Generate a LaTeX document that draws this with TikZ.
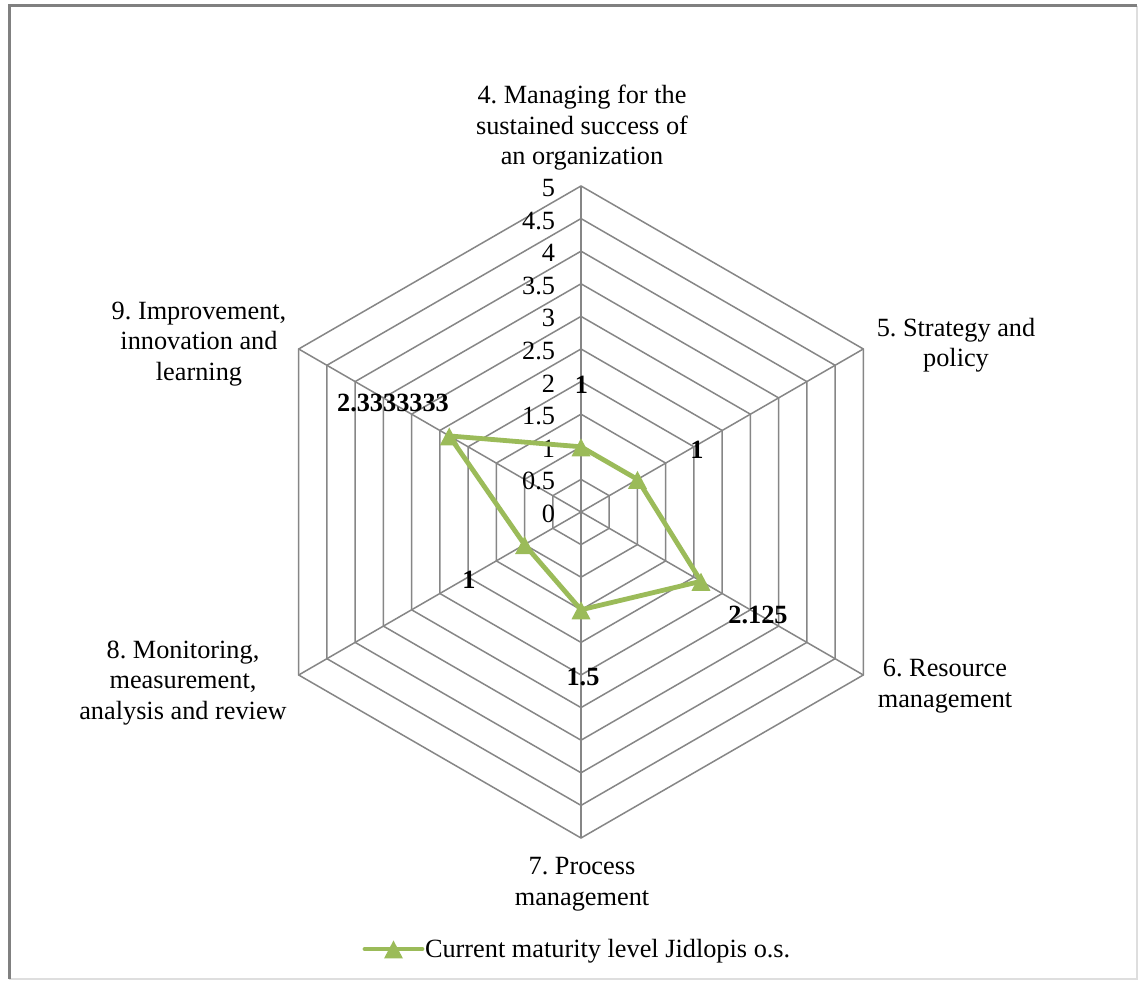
\documentclass[tikz,border=0pt]{standalone}
\usepackage{fontspec}
\usetikzlibrary{calc}
\setmainfont{Liberation Serif}
\frenchspacing
\definecolor{gridgray}{RGB}{134,134,134}
\definecolor{framegray}{RGB}{128,128,128}
\definecolor{shadegray}{RGB}{222,222,222}
\definecolor{seriesgreen}{RGB}{155,187,89}
\tikzset{
  tri/.pic={\fill[seriesgreen] (-9.5,-9.5) -- (9.5,-9.5) -- (0,8.5) -- cycle;}
}
\begin{document}
\begin{tikzpicture}[x=1pt,y=1pt,
  every node/.style={inner sep=0pt, outer sep=0pt},
  chartfont/.style={font=\fontsize{26.3}{30.5}\selectfont},
  axislabel/.style={chartfont, align=center},
  ticklabel/.style={chartfont, anchor=east},
  vallabel/.style={font=\fontsize{26.3}{30.5}\selectfont\bfseries},
  gridline/.style={draw=gridgray, line width=1.5pt},
  series/.style={draw=seriesgreen, line width=4.8pt, line join=round}]

% page and chart frame
\useasboundingbox (0,0) rectangle (1140,982);
\fill[white] (0,0) rectangle (1140,982);
\draw[shadegray, line width=2pt] (1137,976) -- (1137,3) -- (9,3);
\draw[framegray, line width=3pt] (9,3) -- (9,976) -- (1137,976);

% radar grid: 10 rings of 0.5 each, six spokes
\begin{scope}[shift={(581,470)}]
  \foreach \k in {1,...,10} {
    \pgfmathsetmacro{\r}{\k*32.6}
    \draw[gridline] (90:\r) -- (30:\r) -- (-30:\r) -- (-90:\r) -- (-150:\r) -- (150:\r) -- cycle;
  }
  \foreach \a in {90,30,-30,-90,-150,150}
    \draw[gridline] (0,0) -- (\a:326);

  % data points of the series
  \coordinate (p4) at (90:65.2);
  \coordinate (p5) at (30:65.2);
  \coordinate (p6) at (-30:138.55);
  \coordinate (p7) at (-90:97.8);
  \coordinate (p8) at (-150:65.2);
  \coordinate (p9) at (150:152.13);
\end{scope}

% scale labels
\foreach \v/\t in {0/0,1/0.5,2/1,3/1.5,4/2,5/2.5,6/3,7/3.5,8/4,9/4.5,10/5}
  \node[ticklabel] (tick\v) at (555,{470+\v*32.6-2}) {\t};

% series polygon and markers
\draw[series] (p4) -- (p5) -- (p6) -- (p7) -- (p8) -- (p9) -- cycle;
\foreach \p in {p4,p5,p6,p7,p8,p9}
  \pic at (\p) {tri};

% value labels
\node[vallabel] (v4) at (581.5,597) {1};
\node[vallabel] (v5) at (697,532) {1};
\node[vallabel] (v6) at (758,367) {2.125};
\node[vallabel] (v7) at (583,305) {1.5};
\node[vallabel] (v8) at (469,402) {1};
\node[vallabel] (v9) at (393,579) {2.3333333};

% category labels
\node[axislabel] (c4) at (582,854) {4. Managing for the\\sustained success of\\an organization};
\node[axislabel] (c5) at (956,637) {5. Strategy and\\policy};
\node[axislabel] (c6) at (945,296) {6. Resource\\management};
\node[axislabel] (c7) at (582,98) {7. Process\\management};
\node[axislabel] (c8) at (183,299) {8. Monitoring,\\measurement,\\analysis and review};
\node[axislabel] (c9) at (199,638) {9. Improvement,\\innovation and\\learning};

% legend
\coordinate (la) at (365,33);
\coordinate (lb) at (422,33);
\draw[seriesgreen, line width=4.8pt, line cap=round] (la) -- (lb);
\pic at ($(la)!0.5!(lb)$) {tri};
\node[chartfont, anchor=west] (legend) at (425,31) {Current maturity level Jidlopis o.s.};
\end{tikzpicture}
\end{document}
